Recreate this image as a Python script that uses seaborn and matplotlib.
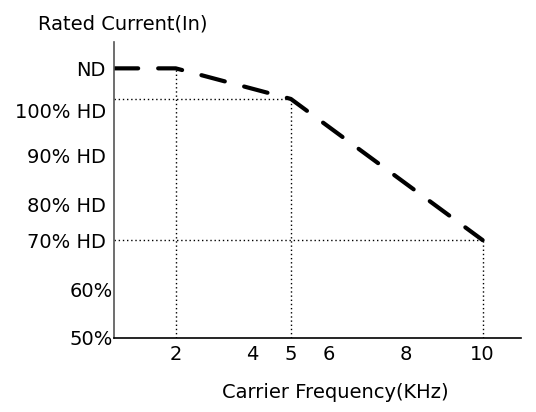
import matplotlib
matplotlib.use("Agg")
import matplotlib.pyplot as plt
import matplotlib.transforms as mtransforms
import pandas as pd
import seaborn as sns

# derating curve: carrier frequency (kHz) vs rated current (% of HD)
freq = [0.39, 2, 5, 10]
current = [106.5, 106.5, 100, 70]

xticks = [2, 4, 5, 6, 8, 10]
yticks = [50, 60, 70, 80, 90, 100, 106.5]
ylabels = ["50%", "60%", "70% HD", "80% HD", "90% HD", "100% HD", "ND"]

df = pd.DataFrame({"freq": freq, "current": current})

sns.set_style("white")
plt.rcParams["font.family"] = ["DejaVu Sans"]
plt.rcParams["text.color"] = "black"
FS = 14

fig = plt.figure(figsize=(5.36, 4.12), dpi=100)
ax = fig.add_axes([114 / 536, 1 - 338 / 412, (521 - 114) / 536, (338 - 42) / 412])

sns.lineplot(data=df, x="freq", y="current", ax=ax, color="black",
             linewidth=3.0, dashes=False, solid_capstyle="round")
ln = ax.lines[-1]
ln.set_linestyle((0, (5.8, 4.8)))
ln.set_dash_capstyle("round")

# dotted guide lines
dot = dict(colors="black", linestyles=(0, (1, 2)), linewidth=1)
ax.vlines(freq[1:], 49.2, current[1:], **dot)
ax.hlines(current[2:], freq[0], freq[2:], **dot)

ax.set_xlim(freq[0], 11.0)
ax.set_ylim(49.2, 112.1)
ax.set_xticks(xticks)
ax.set_xticklabels([str(t) for t in xticks])
ax.set_yticks(yticks)
ax.set_yticklabels(ylabels)
ax.tick_params(axis="both", length=0, labelsize=FS, colors="black")
ax.tick_params(axis="x", pad=5)
ax.tick_params(axis="y", pad=6)

# hand-drawn label placement of the original
shifts = {"50%": (5, -2), "60%": (5, -2), "80% HD": (0, -8), "90% HD": (0, -7),
          "100% HD": (0, -8)}
for lab in ax.get_yticklabels():
    dx, dy = shifts.get(lab.get_text(), (0, 0))
    lab.set_transform(lab.get_transform() +
                      mtransforms.ScaledTranslation(dx / 72, dy / 72, fig.dpi_scale_trans))

for s in ["top", "right"]:
    ax.spines[s].set_visible(False)
ax.spines["left"].set_color("#555555")
ax.spines["bottom"].set_color("black")
ax.spines["left"].set_linewidth(1.2)
ax.spines["bottom"].set_linewidth(1.2)

ax.set_xlabel("")
ax.set_ylabel("")
fig.text(123 / 536, 1 - 24 / 412, "Rated Current(In)", ha="center", va="center",
         fontsize=FS, color="black")
fig.text(335 / 536, 1 - 393 / 412, "Carrier Frequency(KHz)", ha="center", va="center",
         fontsize=FS, color="black")

fig.savefig("out.png", dpi=100)
